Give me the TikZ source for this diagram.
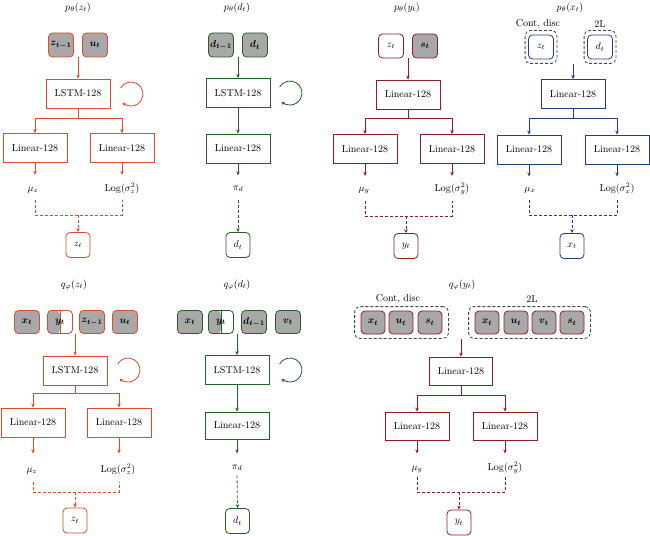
\documentclass[tikz,border=0pt]{standalone}
\usepackage{bm}
\usetikzlibrary{arrows.meta,calc,fit}
\definecolor{cA}{RGB}{222,75,45}
\definecolor{cB}{RGB}{40,95,40}
\definecolor{cC}{RGB}{140,30,40}
\definecolor{cD}{RGB}{40,60,130}
\definecolor{gfill}{RGB}{168,168,168}
\definecolor{dgray}{RGB}{70,70,70}
\tikzset{
  lbox/.style={draw, minimum width=64pt, minimum height=29pt, inner sep=0pt, fill=white},
  inb/.style={draw, rounded corners=4pt, minimum width=25pt, minimum height=24pt, inner sep=0pt, fill=gfill},
  inw/.style={inb, fill=white},
  half/.style={inb, fill=white, path picture={
      \fill[gfill] (path picture bounding box.south west) rectangle (path picture bounding box.north);
      \draw (path picture bounding box.south) -- (path picture bounding box.north);}},
  outb/.style={draw, rounded corners=4pt, minimum width=24pt, minimum height=25pt, inner sep=0pt, fill=white},
  lbl/.style={inner sep=0pt, anchor=base},
  ttl/.style={inner sep=0pt},
  grp/.style={draw=dgray, dashed, dash pattern=on 3pt off 2pt, rounded corners=5pt, inner xsep=4pt, inner ysep=4pt},
  dsh/.style={dash pattern=on 3pt off 2pt}
}
\begin{document}
\begin{tikzpicture}[x=1pt, y=-1pt, line width=0.8pt, font=\fontsize{10}{12}\selectfont,
  >={Stealth[length=4pt,width=3.5pt]}]
\fill[white] (0,0) rectangle (650,535);
\useasboundingbox (0,0) rectangle (650,535);

% ---------- Panel A: p(z_t)
\begin{scope}[draw=cA]
\node[ttl] (tA) at (78,8) {$p_\theta(z_t)$};
\node[inb] (a1) at (61,45) {$\bm{z_{t-1}}$};
\node[inb] (a2) at (95,45) {$\bm{u_t}$};
\node[lbox] (aL) at (78,93.5) {LSTM-128};
\coordinate (aC) at (131,94);
\node[lbox] (a3) at (35,148) {Linear-128};
\node[lbox] (a4) at (122,148) {Linear-128};
\node[lbl] (a5) at (33,191) {$\mu_z$};
\node[lbl] (a6) at (122,191) {$\mathrm{Log}(\sigma_z^2)$};
\node[outb] (a7) at (78,245) {$z_t$};
\draw[->] (aL.north |- a1.south) -- (aL.north);
\draw[->] ([shift={(150:12pt)}]aC) arc[start angle=150, end angle=-135, radius=12pt];
\draw[->] (aL.south) -- ++(0,9.5) -| (a3.north);
\draw[->] (aL.south) -- ++(0,9.5) -| (a4.north);
\draw[->] (a3.south) -- ++(0,12);
\draw[->] (a4.south) -- ++(0,12);
\draw[dsh] ($(a3.south)+(0,37)$) |- ($(a4.south)+(0,52)$) -- ($(a4.south)+(0,37)$);
\draw[dsh,->] ($(a7.north |- a3.south)+(0,52)$) -- (a7.north);
\end{scope}

% ---------- Panel B: p(d_t)
\begin{scope}[draw=cB]
\node[ttl] (tB) at (237,8) {$p_\theta(d_t)$};
\node[inb] (b1) at (221,45) {$\bm{d_{t-1}}$};
\node[inb] (b2) at (255,45) {$\bm{d_t}$};
\node[lbox] (bL) at (238,93) {LSTM-128};
\coordinate (bC) at (290,93);
\node[lbox] (b3) at (238,148.5) {Linear-128};
\node[lbl] (b5) at (238,190) {$\pi_d$};
\node[outb] (b7) at (238,245) {$d_t$};
\draw[->] (bL.north |- b1.south) -- (bL.north);
\draw[->] ([shift={(150:12pt)}]bC) arc[start angle=150, end angle=-135, radius=12pt];
\draw[->] (bL.south) -- (b3.north);
\draw[->] (b3.south) -- ++(0,12);
\draw[dsh,->] ($(b3.south)+(0,37)$) -- (b7.north);
\end{scope}

% ---------- Panel C: p(y_t)
\begin{scope}[draw=cC]
\node[ttl] (tC) at (407,8) {$p_\theta(y_t)$};
\node[inw] (c1) at (391,46) {$z_t$};
\node[inb] (c2) at (425,46) {$\bm{s_t}$};
\node[lbox] (c0) at (408,94.5) {Linear-128};
\node[lbox] (c3) at (365,149) {Linear-128};
\node[lbox] (c4) at (452,149) {Linear-128};
\node[lbl] (c5) at (364,191) {$\mu_y$};
\node[lbl] (c6) at (452,191) {$\mathrm{Log}(\sigma_y^2)$};
\node[outb] (c7) at (406,246) {$y_t$};
\draw[->] (c0.north |- c1.south) -- (c0.north);
\draw[->] (c0.south) -- ++(0,9) -| (c3.north);
\draw[->] (c0.south) -- ++(0,9) -| (c4.north);
\draw[->] (c3.south) -- ++(0,12);
\draw[->] (c4.south) -- ++(0,12);
\draw[dsh] ($(c3.south)+(0,37)$) |- ($(c4.south)+(0,52)$) -- ($(c4.south)+(0,37)$);
\draw[dsh,->] ($(c7.north |- c3.south)+(0,52)$) -- (c7.north);
\end{scope}

% ---------- Panel D: p(x_t)
\begin{scope}[draw=cD]
\node[ttl] (tD) at (570,8) {$p_\theta(x_t)$};
\node[ttl] (dT1) at (538,24) {Cont, disc};
\node[ttl] (dT2) at (600,24) {2L};
\node[inw] (d1) at (541,47) {$z_t$};
\node[inw] (d2) at (600,47) {$d_t$};
\node[grp, inner xsep=3pt, fit=(d1)] (dO1) {};
\node[grp, inner xsep=3pt, fit=(d2)] (dO2) {};
\node[lbox] (d0) at (573,94) {Linear-128};
\node[lbox] (d3) at (529,149.5) {Linear-128};
\node[lbox] (d4) at (617,149.5) {Linear-128};
\node[lbl] (d5) at (530,191) {$\mu_x$};
\node[lbl] (d6) at (617,191) {$\mathrm{Log}(\sigma_x^2)$};
\node[outb] (d7) at (572,246) {$x_t$};
\draw[->] (d0.north |- dO1.south) -- (d0.north);
\draw[->] (d0.south) -- ++(0,9.5) -| (d3.north);
\draw[->] (d0.south) -- ++(0,9.5) -| (d4.north);
\draw[->] (d3.south) -- ++(0,12);
\draw[->] (d4.south) -- ++(0,12);
\draw[dsh] ($(d3.south)+(0,36)$) |- ($(d4.south)+(0,51)$) -- ($(d4.south)+(0,36)$);
\draw[dsh,->] ($(d7.north |- d3.south)+(0,51)$) -- (d7.north);
\end{scope}

% ---------- Panel E: q(z_t)
\begin{scope}[draw=cA]
\node[ttl] (tE) at (74,285) {$q_\varphi(z_t)$};
\node[inb, minimum height=23pt] (e1) at (27,322) {$\bm{x_t}$};
\node[half, minimum height=23pt] (e2) at (60,322) {$\bm{y_t}$};
\node[inb, minimum height=23pt] (e3) at (92,322) {$\bm{z_{t-1}}$};
\node[inb, minimum height=23pt] (e4) at (125,322) {$\bm{u_t}$};
\node[lbox] (eL) at (75,370.5) {LSTM-128};
\coordinate (eC) at (128,370);
\node[lbox] (e5) at (33,422.5) {Linear-128};
\node[lbox] (e6) at (119,422.5) {Linear-128};
\node[lbl] (e7) at (32,472) {$\mu_z$};
\node[lbl] (e8) at (118,472) {$\mathrm{Log}(\sigma_z^2)$};
\node[outb] (e9) at (75,520.5) {$z_t$};
\draw[->] (eL.north |- e2.south) -- (eL.north);
\draw[->] ([shift={(150:12pt)}]eC) arc[start angle=150, end angle=-135, radius=12pt];
\draw[->] (eL.south) -- ++(0,8) -| (e5.north);
\draw[->] (eL.south) -- ++(0,8) -| (e6.north);
\draw[->] (e5.south) -- ++(0,16);
\draw[->] (e6.south) -- ++(0,16);
\draw[dsh] ($(e5.south)+(0,45)$) |- ($(e6.south)+(0,55)$) -- ($(e6.south)+(0,45)$);
\draw[dsh,->] ($(e9.north |- e5.south)+(0,55)$) -- (e9.north);
\end{scope}

% ---------- Panel F: q(d_t)
\begin{scope}[draw=cB]
\node[ttl] (tF) at (237,285) {$q_\varphi(d_t)$};
\node[inb, minimum height=23pt] (f1) at (190,322) {$\bm{x_t}$};
\node[half, minimum height=23pt] (f2) at (221,322) {$\bm{y_t}$};
\node[inb, minimum height=23pt] (f3) at (254,322) {$\bm{d_{t-1}}$};
\node[inb, minimum height=23pt] (f4) at (288,322) {$\bm{v_t}$};
\node[lbox] (fL) at (237,370) {LSTM-128};
\coordinate (fC) at (290,370);
\node[lbox, minimum height=27pt] (f5) at (237,425.5) {Linear-128};
\node[lbl] (f6) at (237,469) {$\pi_d$};
\node[outb] (f7) at (237.5,521) {$d_t$};
\draw[->] (fL.north |- f2.south) -- (fL.north);
\draw[->] ([shift={(150:12pt)}]fC) arc[start angle=150, end angle=-135, radius=12pt];
\draw[->] (fL.south) -- (f5.north);
\draw[->] (f5.south) -- ++(0,14);
\draw[dsh,->] ($(f5.south)+(0,36)$) -- (f7.north);
\end{scope}

% ---------- Panel G: q(y_t)
\begin{scope}[draw=cC]
\node[ttl] (tG) at (462,285) {$q_\varphi(y_t)$};
\node[ttl] (gT1) at (398,299) {Cont, disc};
\node[ttl] (gT2) at (532,299) {2L};
\node[inb, minimum width=24pt, minimum height=23pt] (g1) at (373,322.5) {$\bm{x_t}$};
\node[inb, minimum width=24pt, minimum height=23pt] (g2) at (401,322.5) {$\bm{u_t}$};
\node[inb, minimum width=24pt, minimum height=23pt] (g3) at (430,322.5) {$\bm{s_t}$};
\node[inb, minimum width=24pt, minimum height=23pt] (g4) at (487,322.5) {$\bm{x_t}$};
\node[inb, minimum width=24pt, minimum height=23pt] (g5) at (516,322.5) {$\bm{u_t}$};
\node[inb, minimum width=24pt, minimum height=23pt] (g6) at (544,322.5) {$\bm{v_t}$};
\node[inb, minimum width=24pt, minimum height=23pt] (g7) at (572,322.5) {$\bm{s_t}$};
\node[grp, inner xsep=6pt, fit=(g1)(g3)] (gO1) {};
\node[grp, inner xsep=6pt, fit=(g4)(g7)] (gO2) {};
\node[lbox, minimum width=63pt, minimum height=28pt] (g0) at (461,371) {Linear-128};
\node[lbox, minimum height=28pt] (g8) at (417,426) {Linear-128};
\node[lbox, minimum height=28pt] (g9) at (505,426) {Linear-128};
\node[lbl] (g10) at (417,470) {$\mu_y$};
\node[lbl] (g11) at (505,470) {$\mathrm{Log}(\sigma_y^2)$};
\node[outb] (g12) at (459,522.5) {$y_t$};
\draw[->] (g0.north |- gO1.south) -- (g0.north);
\draw[->] (g0.south) -- ++(0,10) -| (g8.north);
\draw[->] (g0.south) -- ++(0,10) -| (g9.north);
\draw[->] (g8.south) -- ++(0,13);
\draw[->] (g9.south) -- ++(0,13);
\draw[dsh] ($(g8.south)+(0,37)$) |- ($(g9.south)+(0,52)$) -- ($(g9.south)+(0,37)$);
\draw[dsh,->] ($(g12.north |- g8.south)+(0,52)$) -- (g12.north);
\end{scope}
\end{tikzpicture}
\end{document}
